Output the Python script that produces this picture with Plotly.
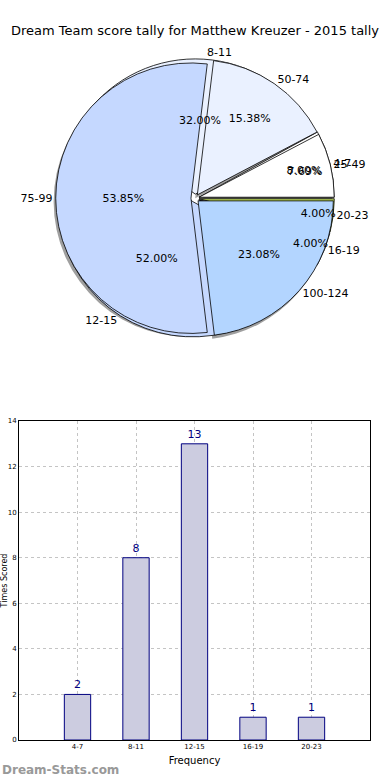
import plotly.graph_objects as go

# ---- data ----
freq_labels = ["4-7", "8-11", "12-15", "16-19", "20-23"]
freq_values = [2, 8, 13, 1, 1]
score_labels = ["25-49", "50-74", "75-99", "100-124"]
score_values = [1, 2, 7, 3]

title_text = "Dream Team score tally for Matthew Kreuzer - 2015 tally"

freq_colors = ["#FFFFFF", "#EAF1FF", "#C5D8FF", "#B3D5FF", "#BBD65A"]
score_colors = ["#FFFFFF", "#EAF1FF", "#C5D8FF", "#B3D5FF"]

FONT = "DejaVu Sans"
pie_domain = dict(x=[0.094, 0.909], y=[0.575, 0.973])
shadow_domain = dict(x=[0.088, 0.903], y=[0.570, 0.968])
PULL = 0.03


def start_east(values):
    # plotly (counterclockwise) puts the end of the first slice at `rotation`;
    # shift so the first slice starts at 3 o'clock, as in the original
    return 90 - 360.0 * values[0] / sum(values)


fig = go.Figure()


def pie_kw(values, domain=pie_domain):
    return dict(sort=False, direction="counterclockwise", rotation=start_east(values),
                hoverinfo="skip", domain=domain, pull=PULL, showlegend=False)


# shadow
fig.add_trace(go.Pie(labels=score_labels, values=score_values,
                     marker=dict(colors=["rgba(80,80,80,0.55)"] * 4, line=dict(width=0)),
                     textinfo="none", **pie_kw(score_values, shadow_domain)))
# frequency pie (underneath)
fig.add_trace(go.Pie(labels=freq_labels, values=freq_values,
                     marker=dict(colors=freq_colors, line=dict(color="black", width=0.8)),
                     textinfo="none", **pie_kw(freq_values)))
# score pie (on top)
fig.add_trace(go.Pie(labels=score_labels, values=score_values,
                     marker=dict(colors=score_colors, line=dict(color="black", width=0.8)),
                     textinfo="none", **pie_kw(score_values)))

clear = "rgba(0,0,0,0)"
for labs, vals in [(freq_labels, freq_values), (score_labels, score_values)]:
    # percent labels
    fig.add_trace(go.Pie(labels=labs, values=vals,
                         marker=dict(colors=[clear] * len(vals), line=dict(width=0)),
                         textinfo="percent", texttemplate="%{percent:.2%}",
                         textposition="inside", insidetextorientation="horizontal",
                         textfont=dict(family=FONT, size=11, color="black"),
                         **pie_kw(vals)))
    # category labels
    fig.add_trace(go.Pie(labels=labs, values=vals,
                         marker=dict(colors=[clear] * len(vals), line=dict(width=0)),
                         textinfo="label", textposition="outside",
                         outsidetextfont=dict(family=FONT, size=11, color="black"),
                         **pie_kw(vals)))

# ---- bar chart ----
fig.add_trace(go.Bar(x=freq_labels, y=freq_values, width=0.45,
                     marker=dict(color="#CCCCE0", line=dict(color="#000080", width=1)),
                     text=freq_values, textposition="outside",
                     textfont=dict(family=FONT, size=11, color="#000080"),
                     cliponaxis=False, showlegend=False, hoverinfo="skip",
                     xaxis="x", yaxis="y"))

fig.update_layout(
    width=390, height=780,
    margin=dict(l=19, r=20, t=40, b=40, autoexpand=False),
    paper_bgcolor="white", plot_bgcolor="white",
    title=dict(text=title_text, x=0.5, xref="container", xanchor="center",
               y=1 - 30 / 780, yanchor="middle",
               font=dict(family=FONT, size=13, color="black")),
    uniformtext=dict(minsize=11, mode="show"),
    xaxis=dict(domain=[0, 1], range=[-1, 5], type="category", automargin=False,
               showline=True, mirror=True, linecolor="black", linewidth=1,
               showgrid=True, gridcolor="#C4C4C4", griddash="dot", gridwidth=1,
               ticks="", tickfont=dict(family=FONT, size=7, color="black"),
               title=dict(text="Frequency", font=dict(family=FONT, size=10, color="black"),
                          standoff=6),
               zeroline=False),
    yaxis=dict(domain=[0, 0.4557], range=[0, 14], dtick=2, automargin=False,
               showline=True, mirror=True, linecolor="black", linewidth=1,
               showgrid=True, gridcolor="#C4C4C4", griddash="dot", gridwidth=1,
               ticks="", tickfont=dict(family=FONT, size=7, color="black"),
               title=dict(text="Times Scored", font=dict(family=FONT, size=8, color="black"),
                          standoff=7),
               zeroline=False),
    annotations=[dict(text="<b>Dream-Stats.com</b>", xref="paper", yref="paper",
                      x=-19 / 351, y=-30 / 700, xanchor="left", yanchor="middle",
                      showarrow=False,
                      font=dict(family=FONT, size=12, color="#999999"))],
)

fig.write_html("out.html", config={"displayModeBar": False},
               post_script="document.body.style.margin='0';document.body.style.overflow='hidden';")
